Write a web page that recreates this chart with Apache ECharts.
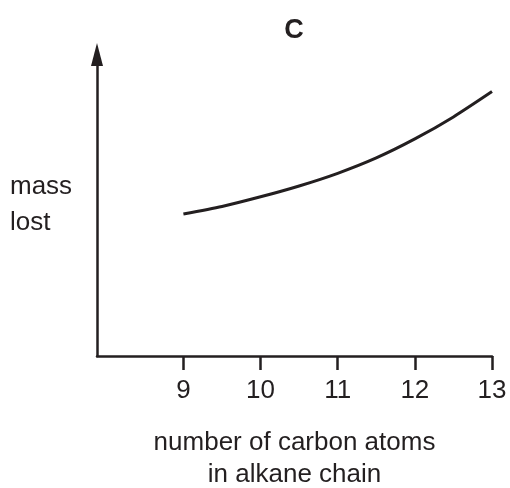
<!DOCTYPE html>
<html>
<head>
<meta charset="utf-8">
<script src="https://cdn.jsdelivr.net/npm/echarts@6/dist/echarts.min.js"></script>
<style>
html,body{margin:0;padding:0;background:#fff;}
#chart{width:510px;height:488px;}
</style>
</head>
<body>
<div id="chart"></div>
<script>
const titleText = 'C';
const xAxisName = 'number of carbon atoms\nin alkane chain';
const yAxisName = 'mass\nlost';
const tickValues = [9, 10, 11, 12, 13];
const carbonAtoms = [9, 9.5, 10, 10.5, 11, 11.5, 12, 12.5, 13];
const massLost = [47.1, 49.6, 52.8, 56.4, 60.6, 65.7, 72.0, 79.3, 87.7];

const ink = '#231f20';
const fontFamily = '"Liberation Sans", Arial, sans-serif';

const chart = echarts.init(document.getElementById('chart'));
chart.setOption({
  backgroundColor: '#ffffff',
  animation: false,
  title: {
    text: titleText,
    left: 294,
    textAlign: 'center',
    top: 17,
    padding: 0,
    textStyle: { color: ink, fontSize: 27, fontWeight: 'bold', fontFamily: fontFamily }
  },
  grid: { left: 97, right: 18, top: 54.5, bottom: 132, containLabel: false, outerBoundsMode: 'none' },
  xAxis: {
    type: 'value',
    min: 7.88,
    max: 13,
    name: xAxisName,
    nameLocation: 'middle',
    nameGap: 71,
    nameTextStyle: { color: ink, fontSize: 26, lineHeight: 32, fontFamily: fontFamily },
    axisLine: { show: true, onZero: false, lineStyle: { color: ink, width: 2.5 } },
    axisTick: { show: true, length: 14, customValues: tickValues, lineStyle: { color: ink, width: 2.5 } },
    axisLabel: { customValues: tickValues, margin: 22, color: ink, fontSize: 26, fontFamily: fontFamily },
    splitLine: { show: false }
  },
  yAxis: {
    type: 'value',
    min: 0,
    max: 100,
    name: yAxisName,
    nameLocation: 'middle',
    nameRotate: 0,
    nameGap: 87,
    nameTextStyle: { color: ink, fontSize: 26, lineHeight: 36, align: 'left', padding: [8, 0, 0, 0], fontFamily: fontFamily },
    axisLine: { show: true, onZero: false, symbol: ['none', 'triangle'], symbolSize: [12, 23], lineStyle: { color: ink, width: 2.5 } },
    axisTick: { show: false },
    axisLabel: { show: false },
    splitLine: { show: false }
  },
  series: [{
    type: 'line',
    data: carbonAtoms.map((c, i) => [c, massLost[i]]),
    smooth: 0.25,
    showSymbol: false,
    lineStyle: { color: ink, width: 3 }
  }]
});
</script>
</body>
</html>
